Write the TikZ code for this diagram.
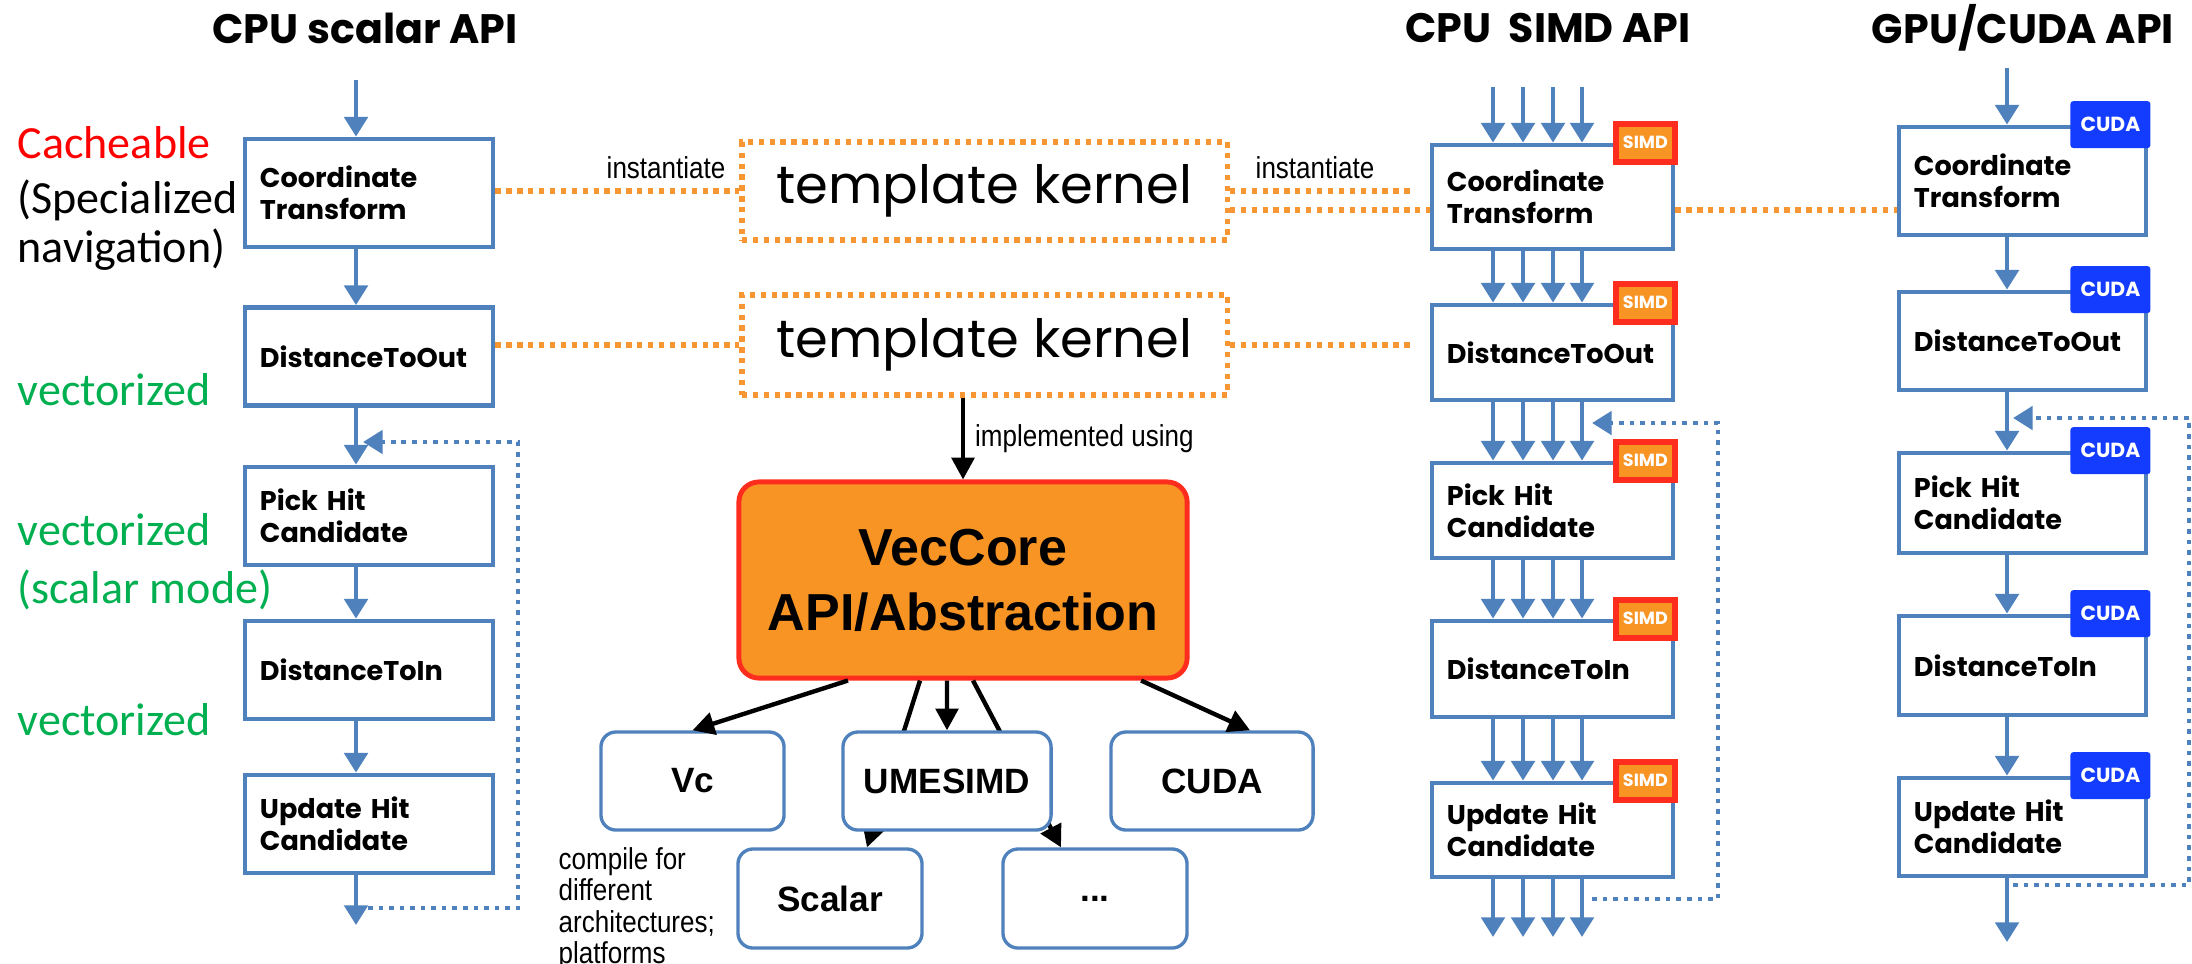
\documentclass[tikz,border=0pt]{standalone}
\usepackage{fontspec}
\setmainfont{Liberation Sans}
\newfontfamily\gothic{Poppins}
\newfontfamily\calib{Carlito}
\newfontfamily\narrow[FakeStretch=0.86]{Liberation Sans}
\usetikzlibrary{arrows.meta}
\definecolor{boxblue}{RGB}{79,129,189}
\definecolor{corange}{RGB}{248,148,36}
\definecolor{dotorange}{RGB}{247,150,50}
\definecolor{tagred}{RGB}{255,45,30}
\definecolor{cudablue}{RGB}{20,60,255}
\definecolor{vgreen}{RGB}{0,176,80}

\begin{document}
\begin{tikzpicture}[x=0.01cm,y=-0.01cm,
    flow/.style={draw=boxblue,line width=1.3pt,-{Triangle[width=6.6pt,length=5.6pt]}},
    kflow/.style={draw=black,line width=1.25pt,-{Triangle[width=6.4pt,length=6.2pt]}},
    backloop/.style={draw=boxblue,line width=1.3pt,dash pattern=on 1.3pt off 1.7pt,-{Triangle[width=6.6pt,length=5.6pt]}},
    lbox/.style={draw=boxblue,line width=1.35pt,fill=white,minimum width=2.48cm,minimum height=0.98cm,text width=2.18cm,inner xsep=0.15cm,inner ysep=0pt,align=left,font=\gothic\bfseries\fontsize{7.7}{9.1}\selectfont},
    sbox/.style={lbox,minimum width=2.41cm,text width=2.11cm},
    cbox/.style={lbox,minimum width=2.47cm,text width=2.17cm},
    simdtag/.style={draw=tagred,line width=1.7pt,fill=corange,minimum width=0.59cm,minimum height=0.38cm,inner sep=0pt,text=white,font=\gothic\bfseries\fontsize{5}{6}\selectfont},
    cudatag/.style={fill=cudablue,rounded corners=0.03cm,minimum width=0.8cm,minimum height=0.47cm,inner sep=0pt,text=white,font=\gothic\bfseries\fontsize{5.8}{7}\selectfont},
    tline/.style={draw=dotorange,line width=1.5pt,dash pattern=on 1.5pt off 1.6pt},
    tkern/.style={tline,fill=white,minimum width=4.85cm,minimum height=0.98cm,font=\gothic\fontsize{15}{17}\selectfont},
    vcore/.style={draw=tagred,fill=corange,line width=1.4pt,rounded corners=0.2cm,minimum width=4.48cm,minimum height=1.96cm,align=center,font=\bfseries\fontsize{14.8}{18.5}\selectfont},
    back/.style={draw=boxblue,line width=0.95pt,fill=white,rounded corners=0.15cm,minimum width=1.83cm,minimum height=0.98cm,font=\bfseries\fontsize{10}{12}\selectfont},
    title/.style={font=\gothic\bfseries\fontsize{11.7}{14}\selectfont},
    note/.style={font=\calib\fontsize{13.1}{15}\selectfont,anchor=west,inner sep=0pt},
    lbl/.style={font=\narrow\fontsize{8.6}{9}\selectfont,inner sep=0pt}]
                \useasboundingbox (0,0) rectangle (2192,963);

                \node[title] (tscalar) at (365,28) {CPU scalar API};
                \node[title] (tsimd) at (1548,28) {CPU~~SIMD API};
                \node[title] (tcuda) at (2023,28) {GPU/CUDA API};

                \node[note,text=red] (cache) at (17,143) {Cacheable};
                \node[note] (spec1) at (17,200) {(Specialized};
                \node[note] (spec2) at (17,250) {navigation)};
                \node[note,text=vgreen] (vec1) at (17,390) {vectorized};
                \node[note,text=vgreen] (vec2) at (17,530) {vectorized};
                \node[note,text=vgreen] (vec3) at (17,590) {(scalar mode)};
                \node[note,text=vgreen] (vec4) at (17,720) {vectorized};

                \node[lbox,minimum height=1.08cm] (L1) at (369,193) {Coordinate\\Transform};
                \node[lbox] (L2) at (369,356.5) {DistanceToOut};
                \node[lbox] (L3) at (369,516) {Pick Hit\\Candidate};
                \node[lbox] (L4) at (369,670) {DistanceToIn};
                \node[lbox] (L5) at (369,824) {Update Hit\\Candidate};

                \coordinate (Lin) at (356,80);
                \coordinate (Lout) at (356,925);
                \coordinate (Lb) at (518,908);
                \coordinate (Lt) at (518,442);
                \draw[flow] (Lin) -- (Lin |- L1.north);
                \draw[flow] (L1.south -| Lin) -- (L2.north -| Lin);
                \draw[flow] (L2.south -| Lin) -- (L3.north -| Lin);
                \draw[flow] (L3.south -| Lin) -- (L4.north -| Lin);
                \draw[flow] (L4.south -| Lin) -- (L5.north -| Lin);
                \draw[flow] (L5.south -| Lin) -- (Lout);
                \draw[backloop,shorten <=0.12cm,shorten >=0.07cm] (Lb -| Lin) -- (Lb) -- (Lt) -- (Lt -| Lin);

                \node[tkern] (T1) at (984.5,191) {template kernel};
                \node[tkern,minimum height=1cm] (T2) at (984.5,345) {template kernel};

                \node[sbox,minimum height=1.04cm] (S1) at (1552.5,197) {Coordinate\\Transform};
                \node[sbox,minimum height=0.95cm] (S2) at (1552.5,352.5) {DistanceToOut};
                \node[sbox,minimum height=0.95cm] (S3) at (1552.5,510.5) {Pick Hit\\Candidate};
                \node[sbox,minimum height=0.96cm] (S4) at (1552.5,669) {DistanceToIn};
                \node[sbox,minimum height=0.94cm] (S5) at (1552.5,830) {Update Hit\\Candidate};

                \node[cbox,minimum height=1.08cm] (C1) at (2022.5,181) {Coordinate\\Transform};
                \node[cbox] (C2) at (2022.5,341) {DistanceToOut};
                \node[cbox,minimum height=1cm] (C3) at (2022.5,503) {Pick Hit\\Candidate};
                \node[cbox,minimum height=0.99cm] (C4) at (2022.5,665.5) {DistanceToIn};
                \node[cbox] (C5) at (2022.5,827) {Update Hit\\Candidate};

                \coordinate (T1b) at ([yshift=-0.19cm]T1.east);
                \draw[tline] (T1.west -| L1.east) -- (T1.west);
                \draw[tline,shorten >=0.19cm] (T1.east) -- (T1.east -| S1.west);
                \draw[tline] (T1b) -- (T1b -| S1.west);
                \draw[tline] (T1b -| S1.east) -- (T1b -| C1.west);
                \draw[tline] (T2.west -| L2.east) -- (T2.west);
                \draw[tline,shorten >=0.2cm] (T2.east) -- (T2.east -| S2.west);
                \node[lbl] (inst1) at (666,168) {instantiate};
                \node[lbl] (inst2) at (1315,168) {instantiate};

                \foreach \xx [count=\i] in {1493,1523,1553,1582} {
                    \coordinate (sin\i) at (\xx,87);
                    \coordinate (sout\i) at (\xx,937);
                }
                \foreach \i in {1,...,4} {
                    \draw[flow] (sin\i) -- (sin\i |- S1.north);
                    \draw[flow] (S1.south -| sin\i) -- (S2.north -| sin\i);
                    \draw[flow] (S2.south -| sin\i) -- (S3.north -| sin\i);
                    \draw[flow] (S3.south -| sin\i) -- (S4.north -| sin\i);
                    \draw[flow] (S4.south -| sin\i) -- (S5.north -| sin\i);
                    \draw[flow] (S5.south -| sin\i) -- (sout\i);
                }
                \coordinate (Sb) at (1718,899);
                \coordinate (St) at (1718,423);
                \draw[backloop,shorten <=0.1cm,shorten >=0.1cm] (Sb -| sin4) -- (Sb) -- (St) -- (St -| sin4);

                \coordinate (Cin) at (2007,68);
                \coordinate (Cout) at (2007,942);
                \coordinate (Cb) at (2189,885);
                \coordinate (Ct) at (2189,418);
                \draw[flow] (Cin) -- (Cin |- C1.north);
                \draw[flow] (C1.south -| Cin) -- (C2.north -| Cin);
                \draw[flow] (C2.south -| Cin) -- (C3.north -| Cin);
                \draw[flow] (C3.south -| Cin) -- (C4.north -| Cin);
                \draw[flow] (C4.south -| Cin) -- (C5.north -| Cin);
                \draw[flow] (C5.south -| Cin) -- (Cout);
                \draw[backloop,shorten <=0.06cm,shorten >=0.06cm] (Cb -| Cin) -- (Cb) -- (Ct) -- (Ct -| Cin);

                \foreach \b in {1,...,5} {
                    \node[simdtag] (S\b t) at ([xshift=-0.3cm]S\b.north east) {SIMD};
                    \node[cudatag] (C\b t) at ([xshift=-0.38cm]C\b.north east) {CUDA};
                }

                \node[vcore] (V) at (963,580) {VecCore\\API/Abstraction};
                \draw[kflow] (T2.south -| V.north) -- (V.north) node[lbl,pos=0.5,anchor=west,xshift=0.1cm] (impl) {implemented using};

                \node[back] (vc) at (692.5,781) {Vc};
                \node[back,minimum width=2.02cm] (cu) at (1212,781) {CUDA};
                \node[back,minimum width=1.84cm,minimum height=0.99cm] (sca) at (830,898.5) {Scalar};
                \node[back,minimum width=1.84cm,minimum height=0.99cm] (more) at (1095,898.5) {...};
                \draw[kflow] ([xshift=-0.43cm]V.south) -- ([xshift=0.37cm]sca.north);
                \draw[kflow] ([xshift=0.1cm]V.south) -- ([xshift=-0.34cm]more.north);
                \node[back,minimum width=2.08cm] (ume) at (947,781) {UMESIMD};
                \draw[kflow] ([xshift=-1.15cm]V.south) -- (vc.north);
                \draw[kflow] ([xshift=-0.16cm]V.south) -- (ume.north);
                \draw[kflow] ([xshift=1.78cm]V.south) -- ([xshift=0.38cm]cu.north);

                \node[lbl,anchor=north west,align=left,font=\narrow\fontsize{8.6}{8.9}\selectfont] (cmp) at (558,847) {compile for\\different\\architectures;\\platforms};
\end{tikzpicture}
\end{document}
